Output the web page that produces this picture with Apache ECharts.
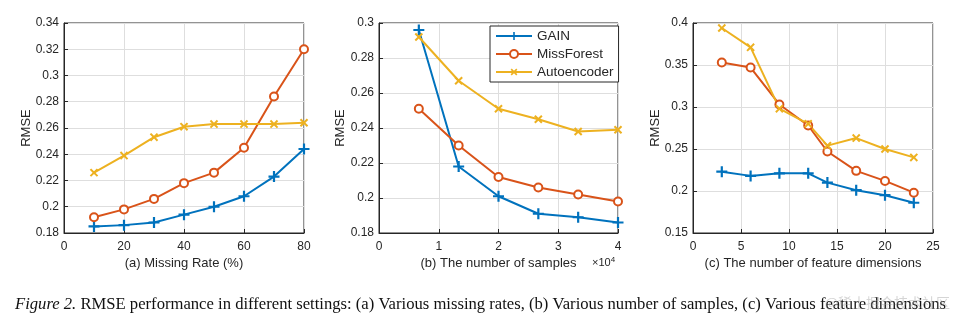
<!DOCTYPE html>
<html>
<head>
<meta charset="utf-8">
<script src="https://cdn.jsdelivr.net/npm/echarts@6/dist/echarts.min.js"></script>
<style>
  html, body { margin: 0; padding: 0; background: #fff; }
  #chart { width: 958px; height: 322px; }
</style>
</head>
<body>
<div id="chart"></div>
<script>
// Methods compared
const methodNames = ['GAIN', 'MissForest', 'Autoencoder'];

// (a) RMSE vs. missing rate (%)
const missingRates = [10, 20, 30, 40, 50, 60, 70, 80];
const gainByRate = [0.185, 0.186, 0.188, 0.194, 0.200, 0.208, 0.223, 0.244];
const missForestByRate = [0.192, 0.198, 0.206, 0.218, 0.226, 0.245, 0.284, 0.320];
const autoencoderByRate = [0.226, 0.239, 0.253, 0.261, 0.263, 0.263, 0.263, 0.264];

// (b) RMSE vs. number of samples
const sampleCounts = [6667, 13333, 20000, 26667, 33333, 40000];
const gainBySamples = [0.296, 0.218, 0.201, 0.191, 0.189, 0.186];
const missForestBySamples = [0.251, 0.230, 0.212, 0.206, 0.202, 0.198];
const autoencoderBySamples = [0.292, 0.267, 0.251, 0.245, 0.238, 0.239];

// (c) RMSE vs. number of feature dimensions
const featureDims = [3, 6, 9, 12, 14, 17, 20, 23];
const gainByDims = [0.223, 0.218, 0.221, 0.221, 0.210, 0.201, 0.195, 0.186];
const missForestByDims = [0.353, 0.347, 0.303, 0.278, 0.247, 0.224, 0.212, 0.198];
const autoencoderByDims = [0.394, 0.371, 0.298, 0.280, 0.254, 0.263, 0.250, 0.240];

// Axis text
const xAxisTitles = ['(a) Missing Rate (%)', '(b) The number of samples', '(c) The number of feature dimensions'];
const yAxisTitle = 'RMSE';
const captionLead = 'Figure 2.';
const captionBody = ' RMSE performance in different settings: (a) Various missing rates, (b) Various number of samples, (c) Various feature dimensions';

const colors = { GAIN: '#0072BD', MissForest: '#D95319', Autoencoder: '#EDB120' };
const ink = '#262626';
const font = 'Liberation Sans, Arial, Helvetica, sans-serif';
const serif = 'Liberation Serif, Times New Roman, serif';

// thick cross used for '+' and (rotated) 'x' markers
const crossPath = 'path://M4,0H6V4H10V6H6V10H4V6H0V4H4Z';

const grids = [
  { left: 64, top: 23, width: 240, height: 210 },
  { left: 379, top: 23, width: 239, height: 210 },
  { left: 693, top: 23, width: 240, height: 210 }
].map(g => Object.assign(g, { show: true, borderColor: ink, borderWidth: 1, backgroundColor: '#fff' }));

function xAxisFor(gi, min, max, interval, fmt) {
  return {
    type: 'value', gridIndex: gi, min, max, interval,
    name: xAxisTitles[gi], nameLocation: 'middle', nameGap: 23.5, nameMoveOverlap: false,
    nameTextStyle: { fontSize: 13, color: ink, fontFamily: font },
    axisLine: { show: true, onZero: false, lineStyle: { color: ink, width: 1 } },
    axisTick: { show: true, inside: true, length: 4, lineStyle: { color: ink } },
    axisLabel: { fontSize: 12, color: ink, fontFamily: font, margin: 8, formatter: fmt },
    splitLine: { show: true, lineStyle: { color: '#dedede', width: 1 } }
  };
}

function yAxisFor(gi, min, max, interval, gap) {
  return {
    type: 'value', gridIndex: gi, min, max, interval,
    name: yAxisTitle, nameLocation: 'middle', nameGap: gap, nameRotate: 90, nameMoveOverlap: false,
    nameTextStyle: { fontSize: 13, color: ink, fontFamily: font },
    axisLine: { show: true, onZero: false, lineStyle: { color: ink, width: 1 } },
    axisTick: { show: true, inside: true, length: 4, lineStyle: { color: ink } },
    axisLabel: { fontSize: 12, color: ink, fontFamily: font, margin: 5, formatter: v => String(+v.toFixed(2)) },
    splitLine: { show: true, lineStyle: { color: '#dedede', width: 1 } }
  };
}

const markerOf = {
  GAIN: { symbol: crossPath, symbolSize: 11, symbolRotate: 0, borderWidth: 0 },
  MissForest: { symbol: 'emptyCircle', symbolSize: 8, symbolRotate: 0, borderWidth: 1.8 },
  Autoencoder: { symbol: crossPath, symbolSize: 10, symbolRotate: 45, borderWidth: 0 }
};

function lineSeries(name, gi, xs, ys) {
  const m = markerOf[name];
  return {
    name, type: 'line', xAxisIndex: gi, yAxisIndex: gi,
    data: xs.map((x, i) => [x, ys[i]]),
    symbol: m.symbol, symbolSize: m.symbolSize, symbolRotate: m.symbolRotate,
    showSymbol: true, showAllSymbol: true, clip: false,
    lineStyle: { width: 2, color: colors[name] },
    itemStyle: { color: colors[name], borderColor: colors[name], borderWidth: m.borderWidth },
    emphasis: { disabled: true }
  };
}

// squeeze the caption horizontally so it spans the page width
const captionSize = 17;
const captionSpan = 931;
const measureCtx = document.createElement('canvas').getContext('2d');
measureCtx.font = 'italic ' + captionSize + 'px ' + serif;
let captionWidth = measureCtx.measureText(captionLead).width;
measureCtx.font = captionSize + 'px ' + serif;
captionWidth += measureCtx.measureText(captionBody).width;
const captionScale = Math.min(1, captionSpan / captionWidth);

const chart = echarts.init(document.getElementById('chart'), null, { renderer: 'canvas' });

chart.setOption({
  animation: false,
  backgroundColor: '#fff',
  grid: grids,
  xAxis: [
    xAxisFor(0, 0, 80, 20),
    xAxisFor(1, 0, 40000, 10000, v => String(v / 10000)),
    xAxisFor(2, 0, 25, 5)
  ],
  yAxis: [
    yAxisFor(0, 0.18, 0.34, 0.02, 31),
    yAxisFor(1, 0.18, 0.30, 0.02, 32),
    yAxisFor(2, 0.15, 0.40, 0.05, 31)
  ],
  legend: {
    data: methodNames,
    orient: 'vertical',
    left: 490, top: 26,
    itemWidth: 36, itemHeight: 10, itemGap: 4,
    padding: [3, 5, 3, 5],
    borderColor: ink, borderWidth: 1, backgroundColor: '#fff',
    textStyle: { fontSize: 13.5, color: ink, fontFamily: font }
  },
  series: [
    lineSeries('GAIN', 0, missingRates, gainByRate),
    lineSeries('MissForest', 0, missingRates, missForestByRate),
    lineSeries('Autoencoder', 0, missingRates, autoencoderByRate),
    lineSeries('GAIN', 1, sampleCounts, gainBySamples),
    lineSeries('MissForest', 1, sampleCounts, missForestBySamples),
    lineSeries('Autoencoder', 1, sampleCounts, autoencoderBySamples),
    lineSeries('GAIN', 2, featureDims, gainByDims),
    lineSeries('MissForest', 2, featureDims, missForestByDims),
    lineSeries('Autoencoder', 2, featureDims, autoencoderByDims)
  ],
  graphic: [
    {
      type: 'text', left: 592, top: 256,
      style: {
        text: '×10{s|4}',
        fontSize: 11, fill: ink, fontFamily: font,
        rich: { s: { fontSize: 8, verticalAlign: 'top', padding: [0, 0, 6, 0], fill: ink } }
      }
    },
    {
      type: 'text', x: 15, y: 296, scaleX: captionScale, scaleY: 1,
      style: {
        text: '{i|' + captionLead + '}' + captionBody,
        fontSize: captionSize, fill: '#111', fontFamily: serif,
        rich: { i: { fontStyle: 'italic', fontSize: captionSize, fontFamily: serif, fill: '#111' } }
      }
    },
    {
      type: 'text', right: 8, top: 296,
      style: { text: '@稀土掘金技术社区', fontSize: 14, fill: 'rgba(150,150,150,0.4)', fontFamily: 'Noto Sans CJK SC, sans-serif' }
    }
  ]
});
</script>
</body>
</html>
